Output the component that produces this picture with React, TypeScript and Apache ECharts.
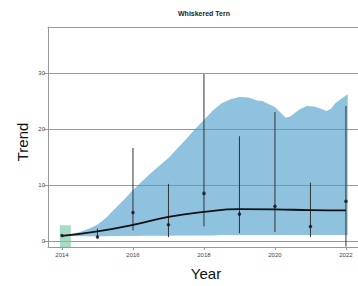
import React, { useEffect, useRef } from "react";
import * as echarts from "echarts";

const years = [2014, 2015, 2016, 2017, 2018, 2019, 2020, 2021, 2022];
const indexValues = [1.0, 0.7, 5.1, 2.9, 8.5, 4.8, 6.2, 2.6, 7.1];
const lowerCI = [1.0, 0.5, 1.9, 0.7, 2.6, 1.4, 1.6, 0.7, -1.0];
const upperCI = [1.0, 2.2, 16.6, 10.2, 29.8, 18.7, 23.0, 10.4, 24.1];
const trendValues = [0.9, 1.7, 2.9, 4.3, 5.2, 5.7, 5.65, 5.5, 5.45];

const bandX = [2014, 2014.25, 2014.5, 2014.75, 2015, 2015.25, 2015.5, 2015.75, 2016, 2016.25, 2016.5, 2016.75, 2017, 2017.25, 2017.5, 2017.75, 2018, 2018.25, 2018.5, 2018.75, 2019, 2019.25, 2019.5, 2019.65, 2019.8, 2020.0, 2020.15, 2020.3, 2020.42, 2020.55, 2020.7, 2020.9, 2021.1, 2021.3, 2021.45, 2021.58, 2021.7, 2021.85, 2022.05];
const bandUpper = [1.0, 1.2, 1.6, 2.2, 2.9, 4.2, 5.8, 7.4, 9.1, 10.6, 12.1, 13.5, 14.8, 16.5, 18.2, 20.0, 21.6, 23.3, 24.6, 25.3, 25.7, 25.6, 25.1, 25.0, 24.5, 23.9, 23.0, 22.0, 22.2, 22.8, 23.5, 24.1, 24.0, 23.6, 23.2, 23.6, 24.6, 25.3, 26.2];
const bandLower = [0.95, 0.9, 0.85, 0.85, 0.85, 0.85, 0.9, 0.9, 0.9, 0.95, 0.95, 0.95, 0.95, 1.0, 1.0, 1.0, 1.0, 1.0, 1.05, 1.05, 1.05, 1.05, 1.05, 1.05, 1.05, 1.05, 1.05, 1.05, 1.05, 1.05, 1.05, 1.05, 1.05, 1.05, 1.05, 1.05, 1.05, 1.05, 1.05];

const baseYearBox = [2013.94, 2014.25, -1.1, 2.8];

const yTicks = [0, 10, 20, 30];
const xTicks = [2014, 2016, 2018, 2020, 2022];

const X_MIN = 2013.606;
const X_MAX = 2022.34;
const Y_MIN = -1.07;
const Y_MAX = 38.2;

export default function App() {
  const ref = useRef<HTMLDivElement>(null);
  useEffect(() => {
    if (!ref.current) return;
    const chart = echarts.init(ref.current, null, { renderer: "svg" });
    const gridColor = "#8c8c8c";
    const font = "Liberation Sans, Arial, sans-serif";
    const labelStyle = { fontSize: 6, color: "#444", fontFamily: font };
    chart.setOption({
      animation: false,
      backgroundColor: "#ffffff",
      grid: { left: 48, right: 0, top: 27, bottom: 39 },
      xAxis: [
        {
          type: "value",
          min: X_MIN,
          max: X_MAX,
          axisLine: { show: true, onZero: false, lineStyle: { color: "#999", width: 1 } },
          axisTick: { show: true, length: 3, customValues: xTicks, lineStyle: { color: "#999" } },
          axisLabel: { ...labelStyle, margin: 5, customValues: xTicks, formatter: (v: number) => String(Math.round(v)) },
          splitLine: { show: false },
        },
        {
          type: "value",
          position: "top",
          min: X_MIN,
          max: X_MAX,
          axisLine: { show: true, onZero: false, lineStyle: { color: "#999", width: 1 } },
          axisTick: { show: false },
          axisLabel: { show: false },
          splitLine: { show: false },
        },
      ],
      yAxis: {
        type: "value",
        min: Y_MIN,
        max: Y_MAX,
        axisLine: { show: true, onZero: false, lineStyle: { color: "#999", width: 1 } },
        axisTick: { show: true, length: 4, customValues: yTicks, lineStyle: { color: "#999" } },
        axisLabel: { ...labelStyle, margin: 3, customValues: yTicks },
        splitLine: { show: false },
      },
      graphic: [
        {
          type: "text",
          style: { text: "Whiskered Tern", x: 204, y: 13, fontSize: 7, fontWeight: "bold", fill: "#222", align: "center", verticalAlign: "middle", fontFamily: font },
        },
        {
          type: "text",
          x: 22,
          y: 142,
          rotation: Math.PI / 2,
          style: { text: "Trend", x: 0, y: 0, fontSize: 15, fill: "#111", align: "center", verticalAlign: "middle", fontFamily: font },
        },
        {
          type: "text",
          style: { text: "Year", x: 206, y: 273, fontSize: 15, fill: "#111", align: "center", verticalAlign: "middle", fontFamily: font },
        },
      ],
      series: [
        {
          type: "custom",
          name: "band",
          renderItem: (params: any, api: any) => {
            const top = bandX.map((x, i) => api.coord([x, bandUpper[i]]));
            const bottom = bandX.map((x, i) => api.coord([x, bandLower[i]])).reverse();
            return {
              type: "polygon",
              shape: { points: top.concat(bottom) },
              style: { fill: "#8fc2df" },
            };
          },
          data: [[bandX[0], bandUpper[0]]],
          z: 1,
          markLine: {
            silent: true,
            symbol: "none",
            z: 2,
            label: { show: false },
            lineStyle: { color: gridColor, width: 1, type: "solid", opacity: 0.9 },
            data: yTicks.map((v) => ({ yAxis: v })),
          },
        },
        {
          type: "custom",
          name: "baseYear",
          renderItem: (params: any, api: any) => {
            const p1 = api.coord([api.value(0), api.value(3)]);
            const p2 = api.coord([api.value(1), api.value(2)]);
            return {
              type: "rect",
              shape: { x: p1[0], y: p1[1], width: p2[0] - p1[0], height: p2[1] - p1[1] },
              style: { fill: "rgba(120,200,165,0.65)" },
            };
          },
          data: [baseYearBox],
          z: 6,
        },
        {
          type: "custom",
          name: "errorBars",
          renderItem: (params: any, api: any) => {
            const lo = api.coord([api.value(0), api.value(1)]);
            const hi = api.coord([api.value(0), api.value(2)]);
            return {
              type: "line",
              shape: { x1: lo[0], y1: lo[1], x2: hi[0], y2: hi[1] },
              style: { stroke: "#333", lineWidth: 1 },
            };
          },
          data: years.slice(1).map((y, i) => [y, lowerCI[i + 1], upperCI[i + 1]]),
          z: 7,
        },
        {
          type: "line",
          name: "trend",
          smooth: 0.5,
          symbol: "none",
          lineStyle: { color: "#111", width: 1.8 },
          data: years.map((y, i) => [y, trendValues[i]]),
          z: 8,
        },
        {
          type: "scatter",
          name: "index",
          symbol: "circle",
          symbolSize: 3.5,
          itemStyle: { color: "#111" },
          data: years.map((y, i) => [y, indexValues[i]]),
          z: 9,
        },
      ],
    });
    return () => chart.dispose();
  }, []);
  return <div ref={ref} style={{ position: "fixed", left: 0, top: 0, width: 358, height: 286 }} />;
}
